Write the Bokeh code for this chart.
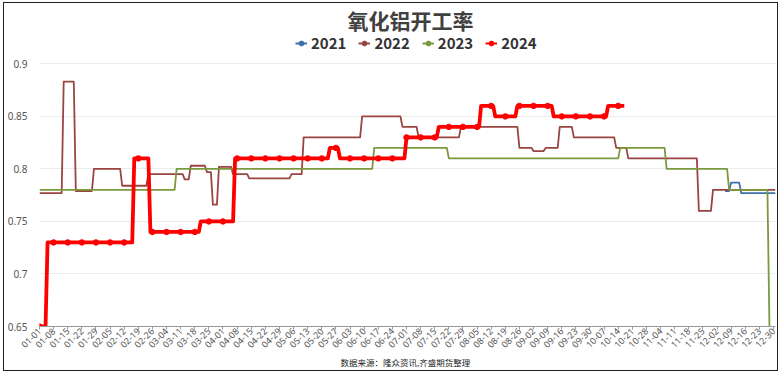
from math import pi
from bokeh.plotting import figure
from bokeh.models import ColumnDataSource, Legend, LegendItem, Title, FixedTicker, Range1d
from bokeh.embed import file_html
from bokeh.resources import INLINE

# ---------------- data ----------------
chart_title = "氧化铝开工率"
source_note = "数据来源：隆众资讯,齐盛期货整理"
series_names = ["2021", "2022", "2023", "2024"]
series_colors = ["#3F6FA8", "#9A4440", "#7A9A3E", "#FF0000"]

x_labels = ["01-01", "01-08", "01-15", "01-22", "01-29", "02-05", "02-12", "02-19", "02-26",
            "03-04", "03-11", "03-18", "03-25", "04-01", "04-08", "04-15", "04-22", "04-29",
            "05-06", "05-13", "05-20", "05-27", "06-03", "06-10", "06-17", "06-24", "07-01",
            "07-08", "07-15", "07-22", "07-29", "08-05", "08-12", "08-19", "08-26", "09-02",
            "09-09", "09-16", "09-23", "09-30", "10-07", "10-14", "10-21", "10-28", "11-04",
            "11-11", "11-18", "11-25", "12-02", "12-09", "12-16", "12-23", "12-30"]
y_ticks = [0.65, 0.7, 0.75, 0.8, 0.85, 0.9]
y_labels = ["0.65", "0.7", "0.75", "0.8", "0.85", "0.9"]

# day index of year (0 = 01-01), value
days_2021 = [340, 342, 343, 347, 348, 365]
rate_2021 = [0.779, 0.779, 0.787, 0.787, 0.777, 0.777]

days_2022 = [0, 11, 12, 17, 18, 26, 27, 40, 41, 53, 54, 71, 72, 74, 75, 82, 83, 85, 86, 88,
             89, 95, 96, 103, 104, 124, 125, 130, 131, 159, 160, 179, 180, 187, 188, 208, 209,
             237, 238, 244, 245, 250, 251, 257, 258, 264, 265, 285, 286, 291, 292, 326, 327,
             333, 334, 365]
rate_2022 = [0.777, 0.777, 0.883, 0.883, 0.779, 0.779, 0.800, 0.800, 0.784, 0.784, 0.795,
             0.795, 0.790, 0.790, 0.803, 0.803, 0.797, 0.797, 0.766, 0.766, 0.802, 0.802,
             0.795, 0.795, 0.791, 0.791, 0.795, 0.795, 0.830, 0.830, 0.850, 0.850, 0.840,
             0.840, 0.830, 0.830, 0.840, 0.840, 0.820, 0.820, 0.817, 0.817, 0.820, 0.820,
             0.840, 0.840, 0.830, 0.830, 0.820, 0.820, 0.810, 0.810, 0.760, 0.760, 0.780,
             0.780]

days_2023 = [0, 67, 68, 165, 166, 202, 203, 287, 288, 310, 311, 341, 342, 361, 362]
rate_2023 = [0.78, 0.78, 0.80, 0.80, 0.82, 0.82, 0.81, 0.81, 0.82, 0.82, 0.80, 0.80, 0.78,
             0.78, 0.65]

days_2024 = [0, 3, 4, 7, 14, 21, 28, 35, 42, 46, 47, 49, 54, 55, 56, 63, 70, 77, 79, 80, 84,
             91, 96, 97, 98, 105, 112, 119, 126, 133, 140, 143, 144, 147, 148, 149, 154, 161,
             168, 175, 181, 182, 189, 196, 197, 198, 203, 210, 217, 218, 219, 224, 225, 226,
             231, 236, 237, 238, 245, 252, 254, 255, 259, 266, 273, 280, 281, 282, 287, 290]
rate_2024 = [0.65, 0.65, 0.73, 0.73, 0.73, 0.73, 0.73, 0.73, 0.73, 0.73, 0.81, 0.81, 0.81,
             0.74, 0.74, 0.74, 0.74, 0.74, 0.74, 0.75, 0.75, 0.75, 0.75, 0.81, 0.81, 0.81,
             0.81, 0.81, 0.81, 0.81, 0.81, 0.81, 0.82, 0.82, 0.82, 0.81, 0.81, 0.81, 0.81,
             0.81, 0.81, 0.83, 0.83, 0.83, 0.83, 0.84, 0.84, 0.84, 0.84, 0.84, 0.86, 0.86,
             0.86, 0.85, 0.85, 0.85, 0.86, 0.86, 0.86, 0.86, 0.86, 0.85, 0.85, 0.85, 0.85,
             0.85, 0.85, 0.86, 0.86, 0.86]

# ---------------- figure ----------------
# frame extends above the 0.9 gridline so that the legend can sit inside it
p = figure(width=775, height=369, output_backend="svg", toolbar_location=None,
           x_range=Range1d(0, 365), y_range=Range1d(0.65, 0.927),
           min_border_left=28, min_border_right=4, min_border_top=31, min_border_bottom=46,
           background_fill_color="white", border_fill_color="white")
p.outline_line_color = None
p.styles = {"border": "1.5px solid #1e1e1e", "margin": "2px 0px 0px 3px"}

p.xgrid.grid_line_color = None
p.ygrid.grid_line_color = "#ebebeb"
p.ygrid.grid_line_width = 1
p.ygrid.ticker = FixedTicker(ticks=y_ticks)

p.yaxis.ticker = FixedTicker(ticks=y_ticks)
p.yaxis.major_label_overrides = {t: l for t, l in zip(y_ticks, y_labels)}
p.yaxis.axis_line_color = None
p.yaxis.major_tick_line_color = None
p.yaxis.minor_tick_line_color = None
p.yaxis.major_label_standoff = 6
p.yaxis.major_label_text_font = "Noto Sans"
p.yaxis.major_label_text_font_size = "10px"
p.yaxis.major_label_text_color = "#555555"

tick_days = [7 * i for i in range(len(x_labels))]
p.xaxis.ticker = FixedTicker(ticks=tick_days)
p.xaxis.major_label_overrides = {t: l for t, l in zip(tick_days, x_labels)}
p.xaxis.major_label_orientation = pi / 4
p.xaxis.axis_line_color = "#9a9a9a"
p.xaxis.major_tick_line_color = "#9a9a9a"
p.xaxis.major_tick_in = 0
p.xaxis.major_tick_out = 3
p.xaxis.minor_tick_line_color = None
p.xaxis.major_label_standoff = 0
p.xaxis.major_label_text_font = "Noto Sans"
p.xaxis.major_label_text_font_size = "9px"
p.xaxis.major_label_text_color = "#555555"

all_days = [days_2021, days_2022, days_2023, days_2024]
all_rates = [rate_2021, rate_2022, rate_2023, rate_2024]
widths = [1.8, 1.8, 1.8, 3.8]
for d, r, c, w in zip(all_days, all_rates, series_colors, widths):
    p.line(d, r, line_color=c, line_width=w, line_join="round")

mk_d = [d for d in days_2024 if d % 7 == 0]
mk_r = [r for d, r in zip(days_2024, rate_2024) if d % 7 == 0]
p.scatter(mk_d, mk_r, size=5.5, fill_color=series_colors[3], line_color=series_colors[3])

# legend (inside the top strip of the frame); legend-only renderers hold no drawable point
nan = float("nan")
items = []
for name, c in zip(series_names, series_colors):
    src = ColumnDataSource(data=dict(x=[nan], y=[nan]))
    lr = p.line("x", "y", source=src, line_color=c, line_width=2)
    sr = p.scatter("x", "y", source=src, size=7, fill_color=c, line_color=c)
    items.append(LegendItem(label=name, renderers=[lr, sr]))
legend = Legend(items=items, orientation="horizontal", location=(256, 273),
                background_fill_alpha=0, border_line_color=None, padding=0, margin=0,
                spacing=12, glyph_width=12, glyph_height=16, label_height=16,
                label_standoff=4, label_text_font="Noto Sans CJK SC",
                label_text_font_style="bold", label_text_font_size="15px",
                label_text_color="#333333", label_text_baseline="middle")
p.add_layout(legend, "center")

p.add_layout(Title(text=chart_title, align="left", offset=308, standoff=0,
                   vertical_align="middle",
                   text_font="Noto Sans CJK SC", text_font_style="bold",
                   text_font_size="21px", text_color="#404040"), "above")
p.add_layout(Title(text=source_note, align="left", offset=301, standoff=0,
                   vertical_align="middle",
                   text_font="Noto Sans CJK SC", text_font_style="normal",
                   text_font_size="8.5px", text_color="#222222"), "below")

open("out.html", "w").write(file_html(p, INLINE))
